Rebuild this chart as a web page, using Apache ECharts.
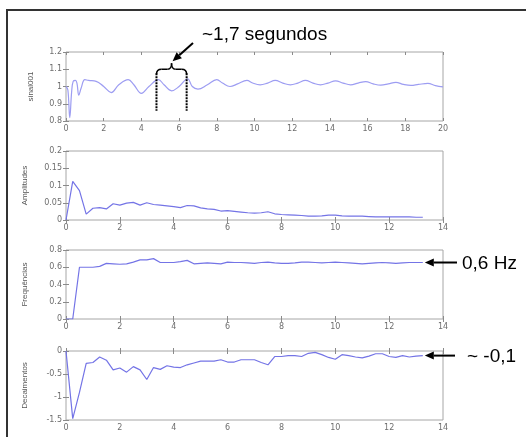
<!DOCTYPE html>
<html>
<head>
<meta charset="utf-8">
<script src="https://cdn.jsdelivr.net/npm/echarts@6/dist/echarts.min.js"></script>
<style>
  html, body { margin: 0; padding: 0; background: #fff; }
  #chart { width: 526px; height: 437px; }
</style>
</head>
<body>
<div id="chart"></div>
<script>
// sinal001 (0..20 s)
var sinalT = [0, 0.1, 0.2, 0.3, 0.38, 0.5, 0.58, 0.68, 0.8, 1.0, 1.2, 1.6, 2.0, 2.4, 2.8, 3.3, 3.6, 4.0, 4.4, 4.9, 5.2, 5.6, 6.0, 6.45, 6.7, 7.0, 7.5, 8.0, 8.3, 8.7, 9.1, 9.6, 9.9, 10.3, 10.7, 11.1, 11.5, 11.9, 12.3, 12.7, 13.1, 13.5, 13.9, 14.3, 14.7, 15.1, 15.5, 15.9, 16.3, 16.7, 17.1, 17.5, 17.9, 18.3, 18.7, 19.2, 19.6, 20]
var sinalV = [1.0, 0.98, 0.82, 0.97, 1.03, 1.035, 1.02, 0.95, 0.99, 1.04, 1.035, 1.03, 1.0, 0.965, 1.01, 1.04, 1.01, 0.96, 1.0, 1.04, 1.01, 0.975, 1.0, 1.045, 1.0, 0.985, 1.01, 1.04, 1.02, 1.0, 1.015, 1.035, 1.02, 1.01, 1.02, 1.035, 1.02, 1.01, 1.02, 1.035, 1.02, 1.01, 1.02, 1.033, 1.02, 1.01, 1.02, 1.028, 1.015, 1.008, 1.015, 1.024, 1.012, 1.006, 1.012, 1.018, 1.005, 0.998]

// tempo das janelas (paineis 2 a 4)
var janT = [0, 0.25, 0.5, 0.75, 1.0, 1.25, 1.5, 1.75, 2.0, 2.25, 2.5, 2.75, 3.0, 3.25, 3.5, 3.75, 4.0, 4.25, 4.5, 4.75, 5.0, 5.25, 5.5, 5.75, 6.0, 6.25, 6.5, 6.75, 7.0, 7.25, 7.5, 7.75, 8.0, 8.25, 8.5, 8.75, 9.0, 9.25, 9.5, 9.75, 10.0, 10.25, 10.5, 10.75, 11.0, 11.25, 11.5, 11.75, 12.0, 12.25, 12.5, 12.75, 13.0, 13.25]
var amplitudes = [0, 0.112, 0.085, 0.017, 0.034, 0.036, 0.032, 0.047, 0.043, 0.049, 0.051, 0.043, 0.05, 0.045, 0.043, 0.041, 0.039, 0.036, 0.042, 0.041, 0.035, 0.032, 0.031, 0.026, 0.027, 0.025, 0.023, 0.021, 0.02, 0.021, 0.024, 0.018, 0.016, 0.015, 0.014, 0.013, 0.011, 0.011, 0.012, 0.014, 0.014, 0.012, 0.011, 0.011, 0.011, 0.01, 0.009, 0.009, 0.009, 0.009, 0.009, 0.009, 0.008, 0.008]
var frequencias = [0, 0, 0.6, 0.6, 0.6, 0.61, 0.645, 0.64, 0.635, 0.64, 0.66, 0.685, 0.685, 0.7, 0.655, 0.655, 0.655, 0.665, 0.68, 0.64, 0.645, 0.65, 0.645, 0.64, 0.66, 0.655, 0.655, 0.65, 0.645, 0.655, 0.66, 0.65, 0.645, 0.645, 0.65, 0.66, 0.66, 0.655, 0.65, 0.655, 0.66, 0.655, 0.65, 0.645, 0.64, 0.645, 0.65, 0.655, 0.65, 0.645, 0.65, 0.655, 0.655, 0.655]
var decaimentos = [0, -1.47, -0.9, -0.27, -0.25, -0.13, -0.2, -0.41, -0.37, -0.46, -0.34, -0.41, -0.62, -0.36, -0.4, -0.32, -0.35, -0.36, -0.3, -0.26, -0.22, -0.22, -0.22, -0.19, -0.24, -0.24, -0.19, -0.19, -0.19, -0.25, -0.3, -0.12, -0.12, -0.1, -0.1, -0.12, -0.05, -0.03, -0.08, -0.14, -0.18, -0.08, -0.1, -0.13, -0.15, -0.11, -0.06, -0.06, -0.12, -0.14, -0.1, -0.13, -0.11, -0.1]

var panelNames = ["sinal001", "Amplitudes", "Frequências", "Decaimentos"]
var yMin = [0.8, 0, 0, -1.5]
var yMax = [1.2, 0.2, 0.8, 0]
var yStep = [0.1, 0.05, 0.2, 0.5]
var xMax = [20, 14, 14, 14]

var tops = [52, 151, 250, 351]
var nameGaps = [31, 37, 37, 37]

function pairs(xs, ys) {
    return xs.map((x, i) => [x, ys[i]])
}

var seriesData = [pairs(sinalT, sinalV), pairs(janT, amplitudes), pairs(janT, frequencias), pairs(janT, decaimentos)]

var tickStyle = { show: true, inside: true, length: 3, lineStyle: { color: "#8a8a8a", width: 1 } }
var labelStyle = { fontSize: 8, color: "#6e6e6e", fontFamily: "DejaVu Sans" }

var grids = [], xAxes = [], yAxes = [], series = []
tops.forEach((top, i) => {
    grids.push({ left: 66, top: top, width: 377, height: 69, show: true, borderColor: "#a6a6a6", borderWidth: 1, backgroundColor: "#fff" })
    xAxes.push({
        type: "value", gridIndex: i, min: 0, max: xMax[i], interval: 2, position: "bottom",
        axisLine: { show: false }, axisTick: tickStyle, splitLine: { show: false },
        axisLabel: Object.assign({ margin: 4 }, labelStyle)
    })
    xAxes.push({
        type: "value", gridIndex: i, min: 0, max: xMax[i], interval: 2, position: "top",
        axisLine: { show: false }, axisTick: tickStyle, splitLine: { show: false }, axisLabel: { show: false }
    })
    yAxes.push({
        type: "value", gridIndex: i, min: yMin[i], max: yMax[i], interval: yStep[i], position: "left",
        axisLine: { show: false }, axisTick: tickStyle, splitLine: { show: false },
        axisLabel: Object.assign({ margin: 4 }, labelStyle),
        name: panelNames[i], nameLocation: "middle", nameGap: nameGaps[i], nameRotate: 90,
        nameTextStyle: { fontSize: 8, color: "#555", fontFamily: "Liberation Sans Narrow, Liberation Sans" }
    })
    yAxes.push({
        type: "value", gridIndex: i, min: yMin[i], max: yMax[i], interval: yStep[i], position: "right",
        axisLine: { show: false }, axisTick: tickStyle, splitLine: { show: false }, axisLabel: { show: false }
    })
    series.push({
        type: "line", xAxisIndex: i * 2, yAxisIndex: i * 2, data: seriesData[i],
        showSymbol: false, smooth: i == 0 ? 0.4 : false,
        lineStyle: { color: i == 0 ? "#9d9df2" : "#7474e6", width: 1.2 },
        animation: false
    })
})

var chart = echarts.init(document.getElementById("chart"), null, { renderer: "canvas" })
chart.setOption({
    animation: false,
    backgroundColor: "#fff",
    grid: grids,
    xAxis: xAxes,
    yAxis: yAxes,
    series: series
})

// anotacoes
function px(panel, x, y) {
    return chart.convertToPixel({ xAxisIndex: panel * 2, yAxisIndex: panel * 2 }, [x, y])
}

function arrow(x1, y1, x2, y2) {
    // seta de (x1,y1) ate a ponta (x2,y2)
    let ang = Math.atan2(y2 - y1, x2 - x1), len = 9, half = 4
    let bx = x2 - len * Math.cos(ang), by = y2 - len * Math.sin(ang)
    let nx = -Math.sin(ang) * half, ny = Math.cos(ang) * half
    return [
        { type: "line", shape: { x1: x1, y1: y1, x2: bx, y2: by }, style: { stroke: "#000", lineWidth: 2 } },
        { type: "polygon", shape: { points: [[x2, y2], [bx + nx, by + ny], [bx - nx, by - ny]] }, style: { fill: "#000" } }
    ]
}

function curve(x1, y1, cx, cy, x2, y2) {
    return { type: "bezierCurve", shape: { x1: x1, y1: y1, cpx1: cx, cpy1: cy, x2: x2, y2: y2 }, style: { fill: null, stroke: "#000", lineWidth: 1.5 } }
}
function seg(x1, y1, x2, y2, extra) {
    return { type: "line", shape: { x1: x1, y1: y1, x2: x2, y2: y2 }, style: Object.assign({ stroke: "#000", lineWidth: 1.5 }, extra || {}) }
}

var left = px(0, 4.8, 1.1), right = px(0, 6.4, 1.1)
var lowL = px(0, 4.8, 0.86), lowR = px(0, 6.4, 0.86)
var L = left[0], R = right[0], midX = (L + R) / 2, by = left[1]

var hzPt = px(2, 13.25, 0.655)
var decPt = px(3, 13.25, -0.1)

var graphics = [
    { type: "rect", shape: { x: 7, y: 10, width: 540, height: 460 }, style: { fill: null, stroke: "#333", lineWidth: 2 } },
    // chave
    curve(L, by + 5, L, by, L + 5, by),
    seg(L + 5, by, midX - 4, by),
    curve(midX - 4, by, midX, by, midX, by - 6),
    curve(midX, by - 6, midX, by, midX + 4, by),
    seg(midX + 4, by, R - 5, by),
    curve(R - 5, by, R, by, R, by + 5),
    // linhas pontilhadas
    seg(L, by + 4, lowL[0], lowL[1], { lineWidth: 2, lineDash: [2, 1] }),
    seg(R, by + 4, lowR[0], lowR[1], { lineWidth: 2, lineDash: [2, 1] }),
    { type: "text", x: 202, y: 35, style: { text: "~1,7 segundos", font: "19px Liberation Sans", fill: "#000", verticalAlign: "middle" } },
    { type: "text", x: 462, y: hzPt[1] + 1, style: { text: "0,6 Hz", font: "19px Liberation Sans", fill: "#000", verticalAlign: "middle" } },
    { type: "text", x: 467, y: decPt[1] + 1, style: { text: "~ -0,1", font: "19px Liberation Sans", fill: "#000", verticalAlign: "middle" } }
]
graphics = graphics.concat(arrow(193, 43, midX + 1, by - 8))
graphics = graphics.concat(arrow(457, hzPt[1], hzPt[0] + 2, hzPt[1]))
graphics = graphics.concat(arrow(455, decPt[1], decPt[0] + 2, decPt[1]))
graphics.forEach(g => { g.z = 100 })

chart.setOption({ graphic: graphics })
</script>
</body>
</html>
